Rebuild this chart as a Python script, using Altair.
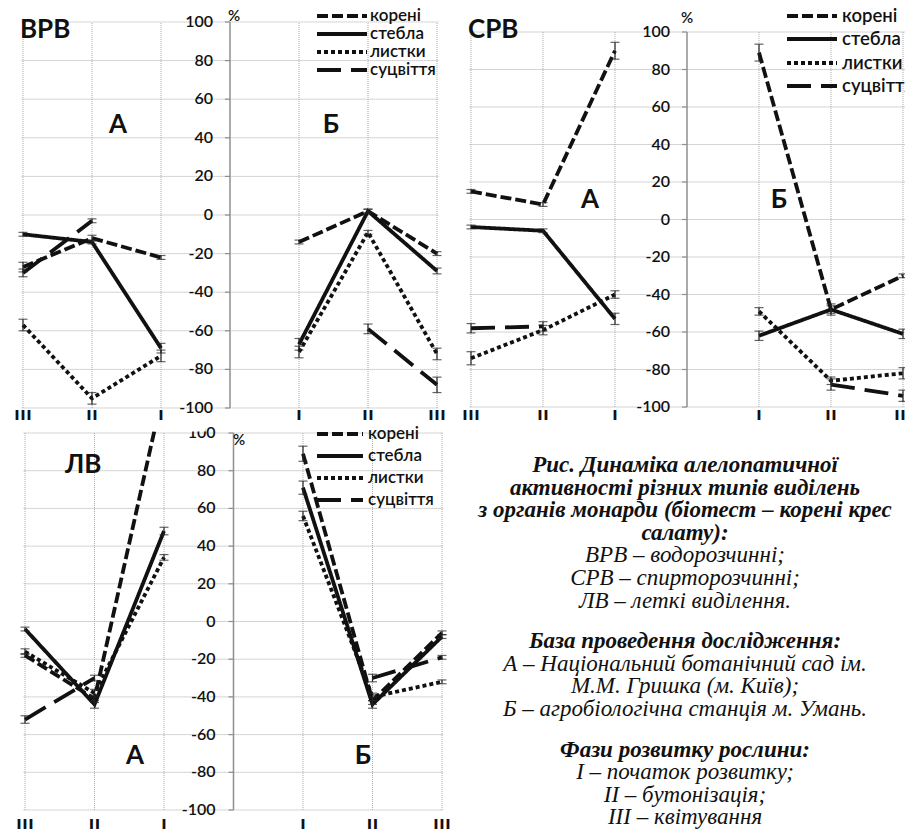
import altair as alt
import pandas as pd

# ---------------- data ----------------
SERIES = ["корені", "стебла", "листки", "суцвіття"]
PHASES = ["I", "II", "III"]          # order of the values in every list below
DASHES = [[11, 4], [1, 0], [4, 3], [24, 10]]
Y_TICKS = [-100, -80, -60, -40, -20, 0, 20, 40, 60, 80, 100]
CAT_POS = [0, 1, 2, 4, 5, 6]
CAT_LAB = ["III", "II", "I", "I", "II", "III"]

# ВРВ – водорозчинні
VRV_A = {"корені": [-22, -12, -27], "стебла": [-69, -14, -10],
         "листки": [-73, -95, -57], "суцвіття": [None, -3, -30]}
VRV_A_ERR = {"корені": [1, 1.5, 2.5], "стебла": [2.5, 1, 1],
             "листки": [3, 3, 3], "суцвіття": [None, 1, 2]}
VRV_B = {"корені": [-14, 2, -20], "стебла": [-67, 2, -29],
         "листки": [-71, -9, -72], "суцвіття": [None, -59, -88]}
VRV_B_ERR = {"корені": [1, 1, 1], "стебла": [3, 1, 1.5],
             "листки": [3, 1, 3], "суцвіття": [None, 2.5, 4]}

# СРВ – спирторозчинні
SRV_A = {"корені": [90, 8, 15], "стебла": [-53, -6, -4],
         "листки": [-40, -59, -74], "суцвіття": [None, -57, -58]}
SRV_A_ERR = {"корені": [4.5, 1, 1], "стебла": [3, 1, 1],
             "листки": [2, 2.5, 3.5], "суцвіття": [None, 2.5, 2.5]}
SRV_B = {"корені": [89, -48, -30], "стебла": [-62, -48, -61],
         "листки": [-49, -86, -82], "суцвіття": [None, -88, -94]}
SRV_B_ERR = {"корені": [4.5, 3, 1], "стебла": [2.5, 2, 2.5],
             "листки": [2, 2, 3], "суцвіття": [None, 3, 3]}

# ЛВ – леткі виділення
LV_A = {"корені": [124, -41, -18], "стебла": [48, -44, -4],
        "листки": [34, -38, -16], "суцвіття": [None, -30, -52]}
LV_A_ERR = {"корені": [3, 2, 1], "стебла": [2, 2, 1],
            "листки": [1.5, 2, 1.5], "суцвіття": [None, 1.5, 2]}
LV_B = {"корені": [89, -42, -6], "стебла": [71, -44, -8],
        "листки": [56, -40, -32], "суцвіття": [None, -30, -19]}
LV_B_ERR = {"корені": [4, 2, 1], "стебла": [3.5, 2, 1],
            "листки": [2.5, 2, 1], "суцвіття": [None, 2, 1]}

CAPTION = [
    ("Рис. Динаміка алелопатичної", "bold"),
    ("активності різних типів виділень", "bold"),
    ("з органів монарди (біотест – корені крес", "bold"),
    ("салату):", "bold"),
    ("ВРВ – водорозчинні;", "normal"),
    ("СРВ – спирторозчинні;", "normal"),
    ("ЛВ – леткі виділення.", "normal"),
    ("База проведення дослідження:", "bold"),
    ("А – Національний ботанічний сад ім.", "normal"),
    ("М.М. Гришка (м. Київ);", "normal"),
    ("Б – агробіологічна станція м. Умань.", "normal"),
    ("Фази розвитку рослини:", "bold"),
    ("I – початок розвитку;", "normal"),
    ("II – бутонізація;", "normal"),
    ("III – квітування", "normal"),
]

# ---------------- styling ----------------
POS_A = {"III": 0, "II": 1, "I": 2}
POS_B = {"I": 4, "II": 5, "III": 6}
INK = "#111111"
GRID = "#a9a9a9"
SANS = "Lato, 'Open Sans', sans-serif"
SERIF = "'Liberation Serif', 'Times New Roman', serif"
LW = 3.8


def series_frame(dA, eA, dB, eB):
    rows = []
    for side, d, e, pos in (("А", dA, eA, POS_A), ("Б", dB, eB, POS_B)):
        for s in SERIES:
            for k, ph in enumerate(PHASES):
                v = d[s][k]
                if v is None:
                    continue
                err = e[s][k]
                rows.append({"series": s, "grp": s + side, "pos": pos[ph],
                             "val": v, "lo": v - err, "hi": v + err})
    return pd.DataFrame(rows)


def label(text, x, y, size, weight="bold", align="center", font=SANS):
    return alt.Chart(pd.DataFrame({"t": [text]})).mark_text(
        font=font, fontSize=size, fontWeight=weight, align=align,
        baseline="middle", color=INK, clip=True
    ).encode(text="t:N", x=alt.value(x), y=alt.value(y))


def panel(df, cfg):
    W, H = cfg["w"], cfg["h"]
    xs = alt.Scale(domain=cfg["xdom"], nice=False, zero=False)
    ys = alt.Scale(domain=cfg["ydom"], nice=False, zero=False)
    ticks = pd.DataFrame({"v": Y_TICKS, "lab": [str(t) for t in Y_TICKS]})
    cats = pd.DataFrame({"p": CAT_POS, "lab": CAT_LAB})
    X = lambda f: alt.X(f, scale=xs, axis=None)
    Y = lambda f: alt.Y(f, scale=ys, axis=None)
    XD = lambda d: alt.XDatum(d, scale=xs, axis=None)
    YD = lambda d: alt.YDatum(d, scale=ys, axis=None)

    layers = []
    layers.append(alt.Chart(ticks).mark_rule(color=GRID, strokeWidth=1, strokeDash=[1, 1], clip=True).encode(
        x=XD(cfg["gx0"]), x2=alt.X2Datum(cfg["gx1"]), y=Y("v:Q")))
    layers.append(alt.Chart(cats).mark_rule(color=GRID, strokeWidth=1, strokeDash=[1, 1], clip=True).encode(
        x=X("p:Q"), y=YD(-100), y2=alt.Y2Datum(100)))
    layers.append(alt.Chart(pd.DataFrame({"a": [0]})).mark_rule(color="#8f8f8f", strokeWidth=1.5).encode(
        x=XD(3), y=YD(-100), y2=alt.Y2Datum(100)))
    layers.append(alt.Chart(ticks).mark_rule(color="#8f8f8f", strokeWidth=1.2).encode(
        x=XD(3), x2=alt.X2Datum(3 - cfg["tick"]), y=Y("v:Q")))
    layers.append(alt.Chart(ticks).mark_text(
        font=SANS, fontSize=16, fontWeight=600, align="right", baseline="middle", dx=cfg["dx"],
        color=INK, clip=True
    ).encode(x=XD(3), y=Y("v:Q"), text="lab:N"))
    layers.append(alt.Chart(df).mark_line(color=INK, strokeWidth=LW, strokeCap="butt", clip=True).encode(
        x=X("pos:Q"), y=Y("val:Q"), detail="grp:N", order="pos:Q",
        strokeDash=alt.StrokeDash("series:N", scale=alt.Scale(domain=SERIES, range=DASHES), legend=None)))
    layers.append(alt.Chart(df).mark_rule(color="#222222", strokeWidth=1.2, clip=True).encode(
        x=X("pos:Q"), y=Y("lo:Q"), y2="hi:Q"))
    layers.append(alt.Chart(df).transform_fold(["lo", "hi"], as_=["k", "ev"]).mark_tick(
        orient="horizontal", size=9, thickness=1.2, color="#222222", clip=True
    ).encode(x=X("pos:Q"), y=Y("ev:Q")))
    if cfg.get("mask"):
        m0, m1 = cfg["mask"]
        layers.append(alt.Chart(pd.DataFrame({"a": [0]})).mark_rect(color="white", clip=True).encode(
            x=XD(m0), x2=alt.X2Datum(m1), y=YD(100.8), y2=alt.value(0)))
    layers.append(alt.Chart(cats).mark_text(
        font=SANS, fontSize=20, fontWeight="bold", align="center", baseline="top", color=INK, clip=True
    ).encode(x=X("p:Q"), y=alt.value(cfg["cat_y"]), text="lab:N"))
    lx0, lx1, tx = cfg["leg_x"]
    for i, s in enumerate(SERIES):
        ly = cfg["leg_y"][i]
        d = pd.DataFrame({"series": [s]})
        layers.append(alt.Chart(d).mark_rule(color=INK, strokeWidth=4, strokeCap="butt",
                                             strokeDash=DASHES[i], clip=True).encode(
            x=alt.value(lx0), x2=alt.value(lx1), y=alt.value(ly)))
        layers.append(alt.Chart(d).mark_text(
            font=SANS, fontSize=cfg["leg_fs"], fontWeight=600, align="left", baseline="middle",
            color=INK, clip=True
        ).encode(x=alt.value(tx), y=alt.value(ly), text="series:N"))
    for (t, x, y, sz, al) in cfg["labels"]:
        layers.append(label(t, x, y, sz, "bold" if t != "%" else 600, al))
    return alt.layer(*layers).properties(width=W, height=H)


p1 = panel(series_frame(VRV_A, VRV_A_ERR, VRV_B, VRV_B_ERR), {
    "w": 447, "h": 412, "xdom": [-15 / 69, 432 / 69], "ydom": [-106.22, 107.25],
    "gx0": -0.02, "gx1": 6.02, "tick": 5 / 69, "dx": -17, "cat_y": 401,
    "leg_x": (309, 359, 362), "leg_y": [8, 26, 44, 62], "leg_fs": 17,
    "labels": [("ВРВ", 12, 22, 26, "left"), ("А", 110, 117, 26, "center"),
               ("Б", 323, 117, 26, "center"), ("%", 226, 8, 15, "center")],
})

p2 = panel(series_frame(SRV_A, SRV_A_ERR, SRV_B, SRV_B_ERR), {
    "w": 450, "h": 412, "xdom": [-16 / 72, 434 / 72], "ydom": [-106.93, 112.8],
    "gx0": -0.02, "gx1": 6.3, "tick": 5 / 72, "dx": -17, "cat_y": 401,
    "leg_x": (332, 382, 387), "leg_y": [8, 31, 55, 78], "leg_fs": 18.5,
    "labels": [("СРВ", 13, 22, 26, "left"), ("А", 135, 192, 26, "center"),
               ("Б", 324, 192, 26, "center"), ("%", 232, 10, 15, "center")],
})

p3 = panel(series_frame(LV_A, LV_A_ERR, LV_B, LV_B_ERR), {
    "w": 447, "h": 409, "xdom": [-17 / 69.5, 430 / 69.5], "ydom": [-110.08, 106.9],
    "gx0": -0.02, "gx1": 6.02, "tick": 5 / 69.5, "dx": -18, "cat_y": 398,
    "leg_x": (309, 355, 360), "leg_y": [14, 36, 58, 80], "leg_fs": 17,
    "labels": [("ЛВ", 57, 45, 26, "left"), ("А", 127, 336, 26, "center"),
               ("Б", 355, 336, 26, "center"), ("%", 231, 20, 15, "center")],
    "mask": (1.55, 2.6),
})

cap_rows = []
y = 45
for i, (t, w) in enumerate(CAPTION):
    if i in (7, 11):
        y += 18
    cap_rows.append({"t": t, "w": w, "row": y})
    y += 22.6
cap = pd.DataFrame(cap_rows)
cy = alt.Scale(domain=[0, 409], range=[0, 409])
cap_layers = []
for w in ("bold", "normal"):
    cap_layers.append(alt.Chart(cap).transform_filter(alt.datum.w == w).mark_text(
        font=SERIF, fontSize=23, fontStyle="italic", fontWeight=w, align="center",
        baseline="middle", color=INK, clip=True
    ).encode(x=alt.value(230), y=alt.Y("row:Q", scale=cy, axis=None), text="t:N"))
txt = alt.layer(*cap_layers).properties(width=450, height=409)

top = alt.hconcat(p1, p2, spacing=0)
bottom = alt.hconcat(p3, txt, spacing=0)
chart = alt.vconcat(top, bottom, spacing=0).properties(
    padding=0, background="white"
).configure_view(stroke=None)

chart.save("out.html", embed_options={"renderer": "svg", "actions": False})
